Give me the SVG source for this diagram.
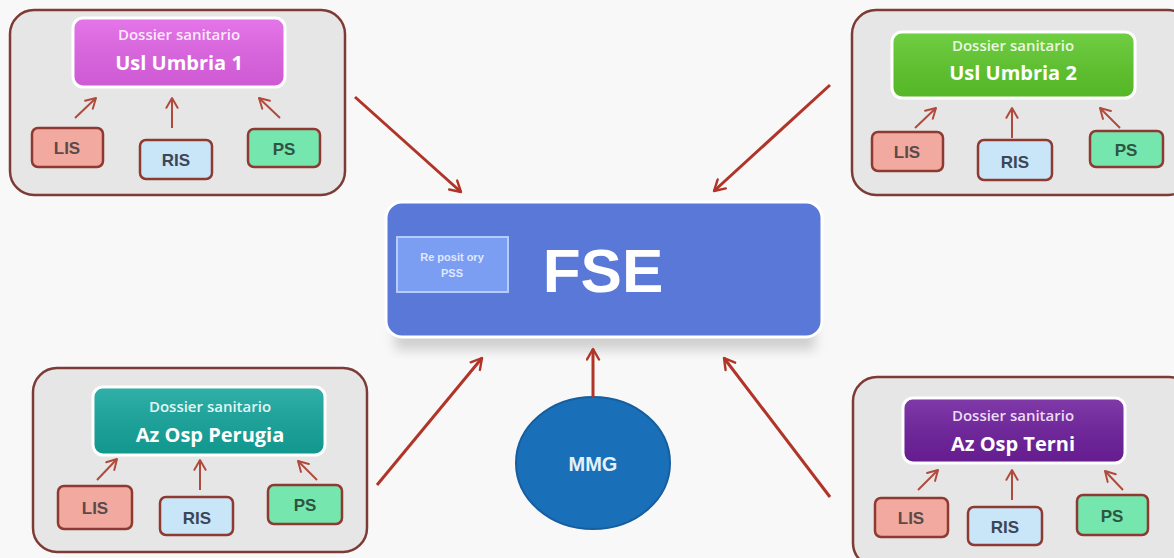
<svg xmlns="http://www.w3.org/2000/svg" width="1174" height="558" viewBox="0 0 1174 558">
<defs>
<marker id="ah" viewBox="0 0 10 10" refX="8" refY="5" markerWidth="5" markerHeight="5" orient="auto" markerUnits="strokeWidth">
<path d="M1,1 L8,5 L1,9" fill="none" stroke="#b03427" stroke-width="1.6" stroke-linecap="round" stroke-linejoin="round"/>
</marker>
<marker id="ahs" viewBox="0 0 10 10" refX="8" refY="5" markerWidth="7" markerHeight="7" orient="auto" markerUnits="strokeWidth">
<path d="M1,1 L8,5 L1,9" fill="none" stroke="#b04a3c" stroke-width="1.4" stroke-linecap="round" stroke-linejoin="round"/>
</marker>
<filter id="sh" x="-10%" y="-30%" width="120%" height="160%"><feGaussianBlur stdDeviation="6"/></filter>
<linearGradient id="gl" x1="0" y1="0" x2="0" y2="1"><stop offset="0" stop-color="#ffffff" stop-opacity="0.12"/><stop offset="1" stop-color="#000000" stop-opacity="0.08"/></linearGradient>
</defs>
<style>
.panel{fill:#e6e6e6;stroke:#7d3b35;stroke-width:2.5}
.hdr{stroke:#ffffff;stroke-width:3}
.gl{fill:url(#gl)}
.h1{font-family:"Open Sans","Liberation Sans",sans-serif;font-size:15px;font-weight:600;fill:#fbe9fb;text-anchor:middle}
.h2{font-family:"Open Sans","Liberation Sans",sans-serif;font-size:20px;font-weight:bold;fill:#ffffff;text-anchor:middle}
.sb{stroke:#8e3a31;stroke-width:2.5}
.lis{fill:#f2aaa0}
.ris{fill:#c9e5f8}
.ps{fill:#74e6ae}
.st{font-family:"Liberation Sans",Arial,sans-serif;font-size:17px;font-weight:bold;text-anchor:middle}
.big{fill:none;stroke:#b03427;stroke-width:3;marker-end:url(#ah)}
.sm{fill:none;stroke:#b04a3c;stroke-width:2;marker-end:url(#ahs)}
</style>
<rect width="1174" height="558" fill="#f8f8f8"/>

<g id="panel-usl1">
<rect class="panel" x="10" y="10" width="335" height="185" rx="24"/>
<rect class="hdr" x="73" y="18" width="212" height="69" rx="10" fill="#e163e6"/>
<rect class="gl" x="74.5" y="19.5" width="209" height="66" rx="9"/>
<text class="h1" x="179" y="40">Dossier sanitario</text>
<text class="h2" x="179" y="70">Usl Umbria 1</text>
<rect class="sb lis" x="32" y="128" width="71" height="39" rx="6"/>
<text class="st" x="67" y="154" fill="#5a4a48">LIS</text>
<rect class="sb ris" x="140" y="140" width="72" height="39" rx="6"/>
<text class="st" x="176" y="166" fill="#3c4656">RIS</text>
<rect class="sb ps" x="248" y="129" width="72" height="38" rx="6"/>
<text class="st" x="284" y="155" fill="#2f5542">PS</text>
<path class="sm" d="M75,118 L96,98"/>
<path class="sm" d="M172,128 L172,98"/>
<path class="sm" d="M280,118 L259,98"/>
</g>

<g id="panel-usl2">
<rect class="panel" x="852" y="10" width="340" height="185" rx="24"/>
<rect class="hdr" x="892" y="32" width="243" height="66" rx="10" fill="#5dc72a"/>
<rect class="gl" x="893.5" y="33.5" width="240" height="63" rx="9"/>
<text class="h1" x="1013" y="51" style="fill:#eaf8e0">Dossier sanitario</text>
<text class="h2" x="1013" y="80">Usl Umbria 2</text>
<rect class="sb lis" x="872" y="132" width="71" height="39" rx="6"/>
<text class="st" x="907" y="158" fill="#5a4a48">LIS</text>
<rect class="sb ris" x="978" y="140" width="74" height="40" rx="6"/>
<text class="st" x="1015" y="168" fill="#3c4656">RIS</text>
<rect class="sb ps" x="1090" y="131" width="73" height="36" rx="6"/>
<text class="st" x="1126" y="156" fill="#2f5542">PS</text>
<path class="sm" d="M915,128 L936,108"/>
<path class="sm" d="M1012,138 L1012,108"/>
<path class="sm" d="M1120,128 L1100,108"/>
</g>

<g id="panel-perugia">
<rect class="panel" x="33" y="368" width="334" height="184" rx="24"/>
<rect class="hdr" x="93" y="387" width="232" height="68" rx="10" fill="#14a59c"/>
<rect class="gl" x="94.5" y="388.5" width="229" height="65" rx="9"/>
<text class="h1" x="210" y="412" style="fill:#e2f6f4">Dossier sanitario</text>
<text class="h2" x="210" y="442">Az Osp Perugia</text>
<rect class="sb lis" x="58" y="486" width="74" height="43" rx="6"/>
<text class="st" x="95" y="514" fill="#5a4a48">LIS</text>
<rect class="sb ris" x="160" y="497" width="73" height="38" rx="6"/>
<text class="st" x="197" y="524" fill="#3c4656">RIS</text>
<rect class="sb ps" x="268" y="485" width="74" height="39" rx="6"/>
<text class="st" x="305" y="511" fill="#2f5542">PS</text>
<path class="sm" d="M97,480 L117,459"/>
<path class="sm" d="M200,490 L200,460"/>
<path class="sm" d="M317,480 L298,461"/>
</g>

<g id="panel-terni">
<rect class="panel" x="853" y="377" width="340" height="190" rx="24"/>
<rect class="hdr" x="903" y="398" width="222" height="65" rx="10" fill="#6e1f9c"/>
<rect class="gl" x="904.5" y="399.5" width="219" height="62" rx="9"/>
<text class="h1" x="1013" y="421" style="fill:#eadcf3">Dossier sanitario</text>
<text class="h2" x="1013" y="451">Az Osp Terni</text>
<rect class="sb lis" x="875" y="498" width="73" height="39" rx="6"/>
<text class="st" x="911" y="524" fill="#5a4a48">LIS</text>
<rect class="sb ris" x="968" y="507" width="74" height="38" rx="6"/>
<text class="st" x="1005" y="533" fill="#3c4656">RIS</text>
<rect class="sb ps" x="1077" y="495" width="71" height="40" rx="6"/>
<text class="st" x="1112" y="522" fill="#2f5542">PS</text>
<path class="sm" d="M918,490 L938,470"/>
<path class="sm" d="M1012,500 L1012,470"/>
<path class="sm" d="M1123,490 L1105,471"/>
</g>

<g id="fse">
<rect x="395" y="320" width="420" height="30" fill="#cfcfcf" filter="url(#sh)"/>
<rect x="386" y="202" width="436" height="135" rx="16" fill="#5a78d7" stroke="#ffffff" stroke-width="3"/>
<rect x="397" y="237" width="111" height="55" fill="#7c9ef2" stroke="#b4ccff" stroke-width="2"/>
<text x="452" y="261" font-family="Liberation Sans,Arial,sans-serif" font-size="11" font-weight="bold" fill="#dfe8ff" text-anchor="middle">Re posit ory</text>
<text x="452" y="277" font-family="Liberation Sans,Arial,sans-serif" font-size="11" font-weight="bold" fill="#dfe8ff" text-anchor="middle">PSS</text>
<text x="603" y="292" font-family="Liberation Sans,Arial,sans-serif" font-size="62" font-weight="bold" fill="#ffffff" text-anchor="middle">FSE</text>
</g>

<g id="mmg">
<ellipse cx="593" cy="463" rx="77" ry="66" fill="#1a6fb9" stroke="#165e9e" stroke-width="2"/>
<text x="593" y="471" font-family="Liberation Sans,Arial,sans-serif" font-size="20" font-weight="bold" fill="#e4f2fb" text-anchor="middle">MMG</text>
</g>

<g id="connectors">
<path class="big" d="M355,97 L461,192"/>
<path class="big" d="M830,85 L714,191"/>
<path class="big" d="M377,485 L482,358"/>
<path class="big" d="M593,398 L593,349"/>
<path class="big" d="M830,497 L724,358"/>
</g>
</svg>
